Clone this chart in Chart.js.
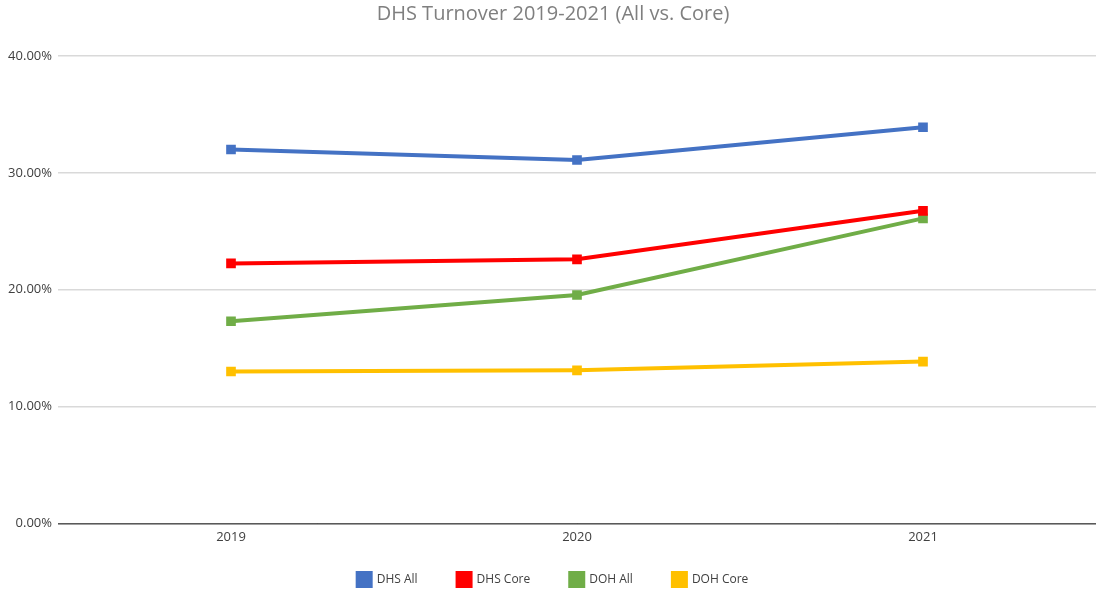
<!DOCTYPE html>
<html>
<head>
<meta charset="utf-8">
<script src="https://cdn.jsdelivr.net/npm/chart.js@4/dist/chart.umd.min.js"></script>
<style>
  html, body { margin: 0; padding: 0; background: #fff; }
  #wrap { width: 1096px; height: 590px; }
</style>
</head>
<body>
<div id="wrap"><canvas id="turnover"></canvas></div>
<script>
const years = ["2019", "2020", "2021"];
const dhsAll = [32.0, 31.1, 33.9];
const dhsCore = [22.25, 22.6, 26.75];
const dohAll = [17.3, 19.55, 26.1];
const dohCore = [13.0, 13.1, 13.85];
const yTicks = [0, 10, 20, 30, 40];

const font = "'Open Sans', 'DejaVu Sans', sans-serif";

const series = [
  { label: "DHS All", data: dhsAll, color: "#4472c4" },
  { label: "DHS Core", data: dhsCore, color: "#ff0000" },
  { label: "DOH All", data: dohAll, color: "#70ad47" },
  { label: "DOH Core", data: dohCore, color: "#ffc000" },
];

// legend takes less height than its padding asks for, and sits a bit higher
const legendTrim = {
  id: "legendTrim",
  beforeLayout(chart) {
    const lg = chart.legend;
    if (lg && !lg._trimmed) {
      const fit = lg.fit;
      lg.fit = function () {
        fit.call(this);
        this.height -= 19;
      };
      lg._trimmed = true;
    }
  },
  afterLayout(chart) {
    if (chart.legend) chart.legend.top -= 18;
  },
};

window.onload = () => {
  const ctx = document.getElementById("turnover");
  new Chart(ctx, {
    type: "line",
    data: {
      labels: years,
      datasets: series.map(({ label, data, color }) => ({
        label,
        data,
        borderColor: color,
        backgroundColor: color,
        borderWidth: 4,
        pointStyle: "rect",
        pointRadius: 4,
        pointHoverRadius: 4,
        tension: 0,
      })),
    },
    options: {
      responsive: true,
      maintainAspectRatio: false,
      animation: false,
      layout: { autoPadding: false, padding: { left: 0, right: -10, top: 0, bottom: -5 } },
      plugins: {
        title: {
          display: true,
          text: "DHS Turnover 2019-2021 (All vs. Core)",
          color: "#7f7f7f",
          font: { family: font, size: 20, weight: "normal" },
          padding: { top: 2, bottom: 30 },
        },
        legend: {
          position: "bottom",
          labels: {
            color: "#404040",
            font: { family: font, size: 12 },
            boxWidth: 13,
            boxHeight: 13,
            padding: 40,
          },
        },
        tooltip: { enabled: false },
      },
      scales: {
        x: {
          offset: true,
          afterFit: (axis) => {
            axis.paddingLeft = 0;
            axis.paddingRight = 0;
          },
          grid: { display: false, drawTicks: false },
          border: { color: "#595959", width: 1 },
          ticks: { color: "#404040", font: { family: font, size: 13 }, padding: 6 },
        },
        y: {
          min: 0,
          max: 40,
          afterBuildTicks: (axis) => {
            axis.ticks = yTicks.map((v) => ({ value: v }));
          },
          afterFit: (axis) => {
            axis.width = 58;
          },
          grid: {
            color: (c) => (c.tick && c.tick.value === 0 ? "#404040" : "#d9d9d9"),
            lineWidth: 1.5,
            drawTicks: false,
          },
          border: { display: false },
          ticks: {
            color: "#404040",
            font: { family: font, size: 13 },
            padding: 6,
            callback: (v) => v.toFixed(2) + "%",
          },
        },
      },
    },
    plugins: [legendTrim],
  });
};
</script>
</body>
</html>
